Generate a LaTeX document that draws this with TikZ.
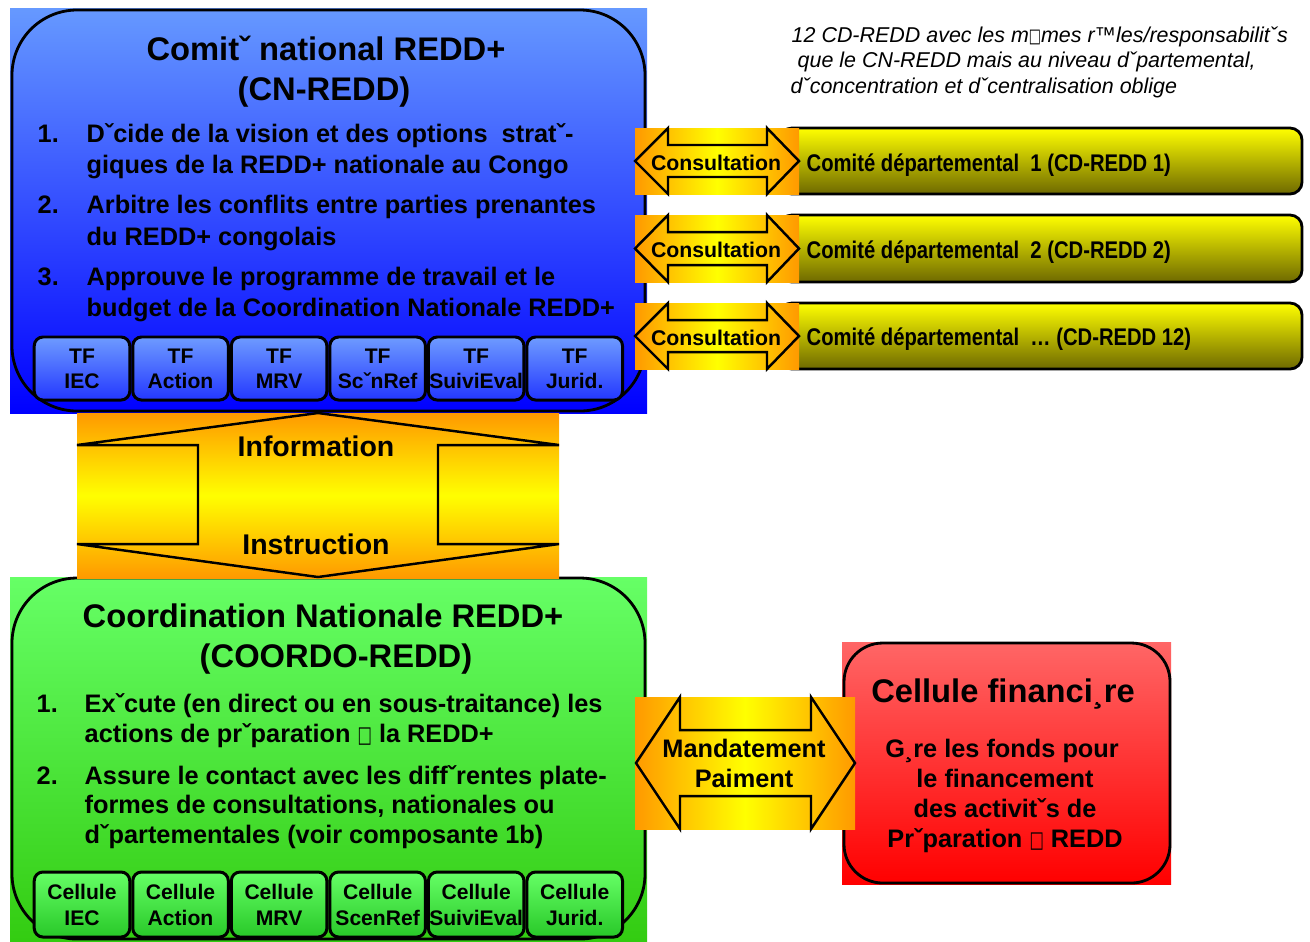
\documentclass[tikz,border=0pt]{standalone}
\usepackage{fontspec}
\setmainfont{Liberation Sans}
\newfontfamily\narrowsans[FakeStretch=0.84]{Liberation Sans}
\newfontfamily\boxglyph{DejaVu Sans}
\usetikzlibrary{positioning}

\definecolor{cnTop}{RGB}{102,153,255}
\definecolor{cnBot}{RGB}{0,0,255}
\definecolor{tfTop}{RGB}{110,155,255}
\definecolor{tfBot}{RGB}{35,55,255}
\definecolor{coTop}{RGB}{102,255,102}
\definecolor{coBot}{RGB}{51,204,17}
\definecolor{ceTop}{RGB}{102,255,102}
\definecolor{ceBot}{RGB}{40,200,40}
\definecolor{cfTop}{RGB}{255,102,102}
\definecolor{cfBot}{RGB}{255,0,0}
\definecolor{cdTop}{RGB}{255,255,0}
\definecolor{cdBot}{RGB}{110,105,0}
\definecolor{arOrange}{RGB}{255,153,0}
\definecolor{arYellow}{RGB}{255,255,0}

\newcommand{\ftitle}{\fontsize{9.3}{11}\selectfont\bfseries}
\newcommand{\fitem}{\fontsize{7.2}{8.6}\selectfont\bfseries}
\newcommand{\finfo}{\fontsize{8.1}{9.5}\selectfont\bfseries}
\newcommand{\fcons}{\fontsize{6.05}{7}\selectfont\bfseries}
\newcommand{\fcd}{\narrowsans\fontsize{6.85}{8}\selectfont\bfseries}
\newcommand{\fsmall}{\fontsize{6}{7.1}\selectfont\bfseries}
\newcommand{\fnote}{\fontsize{6.1}{7}\selectfont\itshape}
\newcommand{\nogl}{{\boxglyph\mdseries\scalebox{0.6}[0.9]{□}}}

\begin{document}
\begin{tikzpicture}[x=0.01cm,y=-0.01cm,
  txt/.style={inner sep=0pt,anchor=base west},
  ctxt/.style={inner sep=0pt,anchor=base},
  outline/.style={line width=0.7pt,line join=miter},
  tfbox/.style={draw,line width=0.85pt,rounded corners=2.5pt,top color=tfTop,bottom color=tfBot,
    minimum width=0.955cm,minimum height=0.63cm,inner sep=0pt,align=center,font=\fsmall},
  cellbox/.style={tfbox,top color=ceTop,bottom color=ceBot,minimum height=0.65cm,
    font=\fontsize{6}{7.4}\selectfont\bfseries}]
 \fill[white] (0,0) rectangle (1310,941);
 \useasboundingbox (0,0) rectangle (1310,941);

 \shade[top color=cnTop,bottom color=cnBot] (10,8) rectangle (647,413);
 \draw[rounded corners=18.5pt,line width=0.8pt] (12,10) rectangle (645,411);
 \node[ctxt,font=\ftitle] (cnTitle) at (326,60) {Comitˇ national REDD+};
 \node[ctxt,font=\ftitle] (cnAbbr) at (324,100) {(CN-REDD)};
 \node[txt,font=\fitem] (cnN1) at (37,142) {1.};
 \node[txt,font=\fitem] (cnT1a) at (86,142) {Dˇcide de la vision et des options\ \ stratˇ-};
 \node[txt,font=\fitem] (cnT1b) at (86,173) {giques de la REDD+ nationale au Congo};
 \node[txt,font=\fitem] (cnN2) at (37,213) {2.};
 \node[txt,font=\fitem] (cnT2a) at (86,213) {Arbitre les conflits entre parties prenantes};
 \node[txt,font=\fitem] (cnT2b) at (86,245) {du REDD+ congolais};
 \node[txt,font=\fitem] (cnN3) at (37,285) {3.};
 \node[txt,font=\fitem] (cnT3a) at (86,285) {Approuve le programme de travail et le};
 \node[txt,font=\fitem] (cnT3b) at (86,316) {budget de la Coordination Nationale REDD+};
 \node[tfbox] (tfIEC) at (82,368.5) {TF\\IEC};
 \node[tfbox,right=0pt of tfIEC] (tfAction) {TF\\Action};
 \node[tfbox,right=0pt of tfAction] (tfMRV) {TF\\MRV};
 \node[tfbox,right=0pt of tfMRV] (tfScen) {TF\\ScˇnRef};
 \node[tfbox,right=0pt of tfScen] (tfSuivi) {TF\\SuiviEval};
 \node[tfbox,right=0pt of tfSuivi] (tfJurid) {TF\\Jurid.};

 \shade[top color=coTop,bottom color=coBot] (10,577) rectangle (647,941);
 \draw[rounded corners=18.5pt,line width=0.8pt] (12,578) rectangle (645,939);
 \node[ctxt,font=\ftitle] (coTitle) at (323,627) {Coordination Nationale REDD+};
 \node[ctxt,font=\ftitle] (coAbbr) at (336,667) {(COORDO-REDD)};
 \node[txt,font=\fitem] (coN1) at (36,712) {1.};
 \node[txt,font=\fitem] (coT1a) at (84,712) {Exˇcute (en direct ou en sous-traitance) les};
 \node[txt,font=\fitem] (coT1b) at (84,742) {actions de prˇparation \nogl{} la REDD+};
 \node[txt,font=\fitem] (coN2) at (36,784) {2.};
 \node[txt,font=\fitem] (coT2a) at (84,784) {Assure le contact avec les diffˇrentes plate-};
 \node[txt,font=\fitem] (coT2b) at (84,813) {formes de consultations, nationales ou};
 \node[txt,font=\fitem] (coT2c) at (84,843) {dˇpartementales (voir composante 1b)};
 \node[cellbox] (ceIEC) at (82,904.5) {Cellule\\IEC};
 \node[cellbox,right=0pt of ceIEC] (ceAction) {Cellule\\Action};
 \node[cellbox,right=0pt of ceAction] (ceMRV) {Cellule\\MRV};
 \node[cellbox,right=0pt of ceMRV] (ceScen) {Cellule\\ScenRef};
 \node[cellbox,right=0pt of ceScen] (ceSuivi) {Cellule\\SuiviEval};
 \node[cellbox,right=0pt of ceSuivi] (ceJurid) {Cellule\\Jurid.};

 \shade[top color=arOrange,bottom color=arOrange,middle color=arYellow] (77,413) rectangle (559,578);
 \draw[outline] (77,445) -- (318,413) -- (559,445) -- (438,445) -- (438,544) -- (559,544) -- (318,577) -- (77,544) -- (198,544) -- (198,445) -- cycle;
 \node[ctxt,font=\finfo] (info) at (316,456) {Information};
 \node[ctxt,font=\finfo] (instr) at (316,554) {Instruction};

 \shade[top color=cfTop,bottom color=cfBot] (842,642) rectangle (1171,884);
 \draw[rounded corners=11pt,line width=0.8pt] (844,643) rectangle (1170,883);
 \node[ctxt,font=\ftitle] (cfTitle) at (1003,702) {Cellule financi¸re};
 \node[ctxt,font=\fitem] (cfT1) at (1002,757) {G¸re les fonds pour};
 \node[ctxt,font=\fitem] (cfT2) at (1005,787) {le financement};
 \node[ctxt,font=\fitem] (cfT3) at (1005,817) {des activitˇs de};
 \node[ctxt,font=\fitem] (cfT4) at (1005,847) {Prˇparation \nogl{} REDD};

 \shade[left color=arOrange,right color=arOrange,middle color=arYellow] (635,697) rectangle (855,829);
 \draw[outline] (636,763) -- (680,697) -- (680,730) -- (811,730) -- (811,697) -- (855,763) -- (811,829) -- (811,796) -- (680,796) -- (680,829) -- cycle;
 \node[ctxt,font=\fitem] (mandat) at (744,757) {Mandatement};
 \node[ctxt,font=\fitem] (paiement) at (744,787) {Paiment};

 \draw[rounded corners=3.4pt,line width=0.8pt,top color=cdTop,bottom color=cdBot] (780,128) rectangle (1302,194);
 \shade[left color=arOrange,right color=arOrange,middle color=arYellow] (635,128) rectangle (799,194);
 \draw[outline] (635,161) -- (668,128) -- (668,145) -- (767,145) -- (767,128) -- (799,161) -- (767,194) -- (767,177) -- (668,177) -- (668,194) -- cycle;
 \node[ctxt,font=\fcons] (cons1) at (716,170) {Consultation};
 \node[txt,font=\fcd] (cd1) at (806,171) {Comité départemental\ \ 1 (CD-REDD 1)};

 \draw[rounded corners=3.4pt,line width=0.8pt,top color=cdTop,bottom color=cdBot] (780,215) rectangle (1302,282);
 \shade[left color=arOrange,right color=arOrange,middle color=arYellow] (635,215) rectangle (799,282);
 \draw[outline] (635,248.5) -- (668,215) -- (668,232) -- (767,232) -- (767,215) -- (799,248.5) -- (767,282) -- (767,265) -- (668,265) -- (668,282) -- cycle;
 \node[ctxt,font=\fcons] (cons2) at (716,257) {Consultation};
 \node[txt,font=\fcd] (cd2) at (806,258) {Comité départemental\ \ 2 (CD-REDD 2)};

 \draw[rounded corners=3.4pt,line width=0.8pt,top color=cdTop,bottom color=cdBot] (780,303) rectangle (1302,369);
 \shade[left color=arOrange,right color=arOrange,middle color=arYellow] (635,303) rectangle (799,369);
 \draw[outline] (635,336) -- (668,303) -- (668,320) -- (767,320) -- (767,303) -- (799,336) -- (767,369) -- (767,352) -- (668,352) -- (668,369) -- cycle;
 \node[ctxt,font=\fcons] (cons3) at (716,345) {Consultation};
 \node[txt,font=\fcd] (cd3) at (806,345) {Comité départemental\ \ … (CD-REDD 12)};

 \node[txt,font=\fnote] (note1) at (791,42) {12 CD-REDD avec les m\nogl{}mes r™les/responsabilitˇs};
 \node[txt,font=\fnote] (note2) at (797,67) {que le CN-REDD mais au niveau dˇpartemental,};
 \node[txt,font=\fnote] (note3) at (790,93) {dˇconcentration et dˇcentralisation oblige};
\end{tikzpicture}
\end{document}
